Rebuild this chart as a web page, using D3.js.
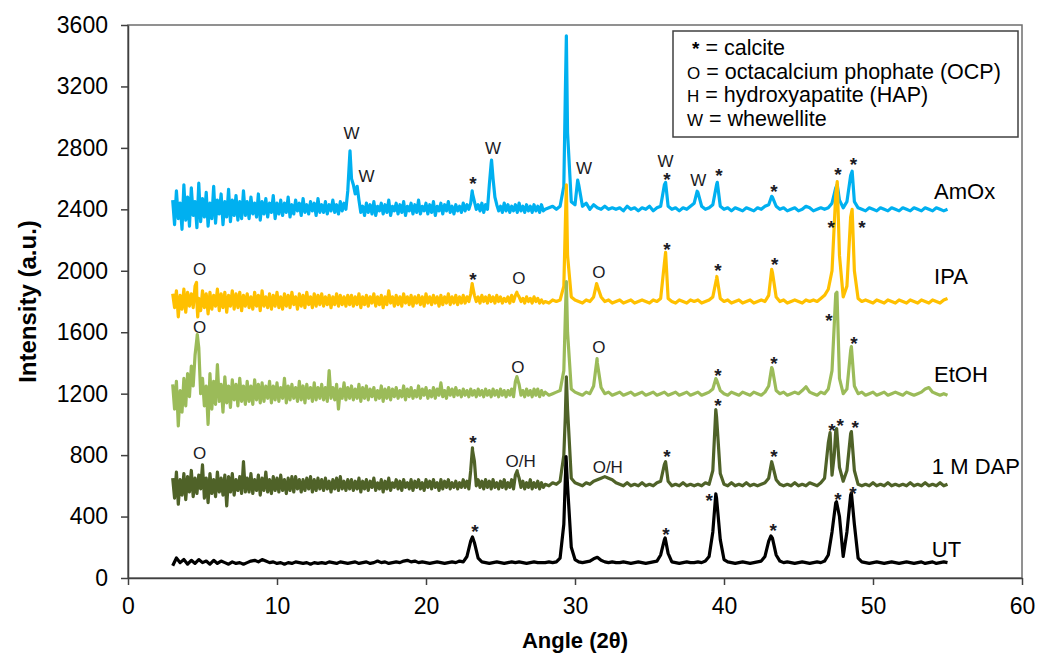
<!DOCTYPE html>
<html>
<head>
<meta charset="utf-8">
<script src="https://cdn.jsdelivr.net/npm/d3@7"></script>
<style>
  body { margin: 0; background: #fff; }
  text { font-family: "Liberation Sans", Arial, sans-serif; }
</style>
</head>
<body>
<script>
// sampling grid of the scans (degrees 2-theta)
const angles = [
  3,3.25,3.5,3.75,4,4.25,4.5,4.75,5,5.25,5.5,5.75,6,6.25,6.5,6.75,7,7.25,7.5,7.75,
  8,8.25,8.5,8.75,9,9.25,9.5,9.75,10,10.25,10.5,10.75,11,11.25,11.5,11.75,12,12.25,12.5,12.75,
  13,13.25,13.5,13.75,14,14.25,14.5,14.75,15,15.25,15.5,15.75,16,16.25,16.5,16.75,17,17.25,17.5,17.75,
  18,18.25,18.5,18.75,19,19.25,19.5,19.75,20,20.25,20.5,20.75,21,21.25,21.5,21.75,22,22.25,22.5,22.75,
  23,23.25,23.5,23.75,24,24.25,24.5,24.75,25,25.25,25.5,25.75,26,26.25,26.5,26.75,27,27.25,27.5,27.75,
  28,28.25,28.5,28.75,29,29.25,29.5,29.75,30,30.25,30.5,30.75,31,31.25,31.5,31.75,32,32.25,32.5,32.75,
  33,33.25,33.5,33.75,34,34.25,34.5,34.75,35,35.25,35.5,35.75,36,36.25,36.5,36.75,37,37.25,37.5,37.75,
  38,38.25,38.5,38.75,39,39.25,39.5,39.75,40,40.25,40.5,40.75,41,41.25,41.5,41.75,42,42.25,42.5,42.75,
  43,43.25,43.5,43.75,44,44.25,44.5,44.75,45,45.25,45.5,45.75,46,46.25,46.5,46.75,47,47.25,47.5,47.75,
  48,48.25,48.5,48.75,49,49.25,49.5,49.75,50,50.25,50.5,50.75,51,51.25,51.5,51.75,52,52.25,52.5,52.75,
  53,53.25,53.5,53.75,54,54.25,54.5,54.75,55
];
// extra in-between readings in the noisy low-angle part
const fineAngles = [
  3.125,3.375,3.625,3.875,4.125,4.375,4.625,4.875,5.125,5.375,5.625,5.875,6.125,6.375,6.625,6.875,7.125,7.375,7.625,7.875,
  8.125,8.375,8.625,8.875,9.125,9.375,9.625,9.875,10.125,10.375,10.625,10.875,11.125,11.375,11.625,11.875,12.125,12.375,12.625,12.875,
  13.125,13.375,13.625,13.875,14.125,14.375,14.625,14.875,15.125,15.375,15.625,15.875,16.125,16.375,16.625,16.875,17.125,17.375,17.625,17.875,
  18.125,18.375,18.625,18.875,19.125,19.375,19.625,19.875,20.125,20.375,20.625,20.875,21.125,21.375,21.625,21.875,22.125,22.375,22.625,22.875,
  23.125,23.375,23.625,23.875,24.125,24.375,24.625,24.875,25.125,25.375,25.625,25.875,26.125,26.375,26.625,26.875,27.125,27.375,27.625,27.875
];

const amoxValues = [
  2460,2520,2440,2560,2480,2540,2450,2570,2470,2510,2440,2550,2460,2500,2450,2530,2460,2490,2450,2520,
  2450,2480,2440,2500,2450,2470,2440,2490,2440,2460,2440,2480,2430,2460,2440,2470,2430,2450,2440,2470,
  2430,2450,2430,2460,2430,2450,2440,2520,2600,2500,2460,2420,2440,2430,2450,2420,2440,2430,2460,2420,
  2440,2430,2450,2420,2440,2430,2460,2420,2440,2430,2450,2420,2440,2430,2450,2420,2430,2420,2440,2430,
  2440,2450,2430,2440,2430,2560,2600,2430,2420,2440,2430,2420,2430,2440,2420,2430,2420,2430,2420,2430,
  2400,2410,2420,2400,2420,2550,2900,2450,2430,2560,2420,2440,2400,2430,2410,2400,2420,2400,2410,2400,
  2410,2390,2420,2400,2410,2390,2410,2400,2420,2390,2410,2420,2560,2420,2400,2410,2390,2410,2400,2420,
  2440,2510,2420,2400,2410,2430,2560,2420,2400,2410,2390,2410,2400,2390,2410,2400,2390,2410,2400,2420,
  2430,2480,2420,2400,2410,2390,2400,2410,2390,2400,2420,2410,2390,2400,2410,2400,2410,2440,2540,2460,
  2410,2450,2620,2450,2410,2400,2390,2410,2400,2390,2410,2400,2390,2410,2400,2390,2410,2400,2390,2410,
  2400,2390,2410,2400,2390,2410,2400,2390,2400
];
const amoxFine = [
  2300,2340,2270,2330,2290,2360,2280,2320,2350,2290,2340,2310,2370,2300,2350,2320,2360,2330,2340,2360,
  2340,2370,2350,2330,2370,2350,2380,2340,2370,2360,2380,2350,2370,2390,2360,2380,2370,2390,2360,2380,
  2380,2370,2390,2380,2370,2390,2400,2740,2560,2550,2380,2360,2380,2370,2360,2390,2370,2380,2360,2390,
  2370,2380,2360,2390,2370,2380,2370,2390,2370,2380,2360,2390,2370,2390,2380,2370,2390,2380,2390,2400,
  2500,2400,2390,2380,2400,2700,2480,2390,2380,2390,2380,2390,2380,2390,2380,2390,2380,2390,2380,2390
];
const amoxPeaks = [[14.9,2780],[15.38,2550],[23.1,2520],[24.4,2720],[29.35,3150],[29.42,3530],
  [30.18,2590],[36.08,2575],[38.2,2518],[39.55,2576],[43.2,2485],[47.6,2560],[48.6,2648]];

const ipaValues = [
  1850,1870,1840,1880,1860,1850,1900,1820,1870,1850,1860,1840,1880,1850,1860,1840,1870,1850,1860,1840,
  1850,1830,1860,1840,1870,1830,1850,1840,1860,1830,1850,1840,1860,1830,1850,1840,1860,1830,1850,1840,
  1850,1830,1840,1830,1850,1840,1830,1840,1840,1830,1850,1830,1840,1830,1850,1830,1840,1830,1870,1830,
  1840,1830,1850,1830,1840,1830,1840,1830,1850,1830,1840,1830,1840,1830,1850,1830,1840,1830,1840,1830,
  1850,1840,1830,1840,1830,1840,1830,1840,1830,1820,1830,1840,1840,1830,1820,1830,1820,1830,1820,1810,
  1800,1790,1810,1800,1810,1900,2100,1830,1810,1800,1790,1810,1800,1830,1900,1830,1800,1810,1790,1800,
  1810,1790,1800,1810,1790,1800,1810,1800,1790,1810,1800,1820,2050,1820,1800,1790,1810,1800,1790,1810,
  1800,1810,1790,1800,1810,1830,1950,1820,1800,1810,1790,1800,1810,1790,1800,1810,1790,1800,1810,1800,
  1840,1990,1830,1800,1810,1790,1800,1810,1800,1790,1810,1800,1810,1800,1820,1840,1880,2000,2500,2100,
  1830,1900,2350,2000,1820,1800,1810,1800,1790,1810,1800,1790,1810,1800,1790,1810,1800,1790,1810,1800,
  1790,1810,1800,1790,1810,1800,1790,1810,1820
];
const ipaFine = [
  1760,1700,1750,1730,1770,1760,1790,1740,1760,1720,1750,1770,1740,1760,1730,1770,1750,1760,1740,1770,
  1760,1750,1770,1740,1770,1760,1750,1770,1760,1750,1770,1760,1780,1750,1770,1760,1780,1760,1770,1780,
  1770,1780,1760,1780,1770,1780,1770,1780,1770,1780,1760,1780,1770,1790,1770,1780,1760,1780,1790,1770,
  1780,1770,1790,1780,1770,1790,1780,1770,1790,1780,1790,1770,1780,1790,1780,1790,1780,1790,1790,1800,
  1900,1800,1790,1800,1790,1800,1790,1800,1790,1800,1790,1800,1850,1800,1790,1800,1790,1800,1790,1790
];
const ipaPeaks = [[4.6,1924],[4.68,1700],[23.1,1917],[26.1,1860],[29.35,2300],[29.42,2560],
  [31.45,1917],[36.08,2120],[39.52,1963],[43.2,2009],[47.6,2580],[48.6,2400]];

const etohValues = [
  1260,1280,1220,1300,1330,1380,1450,1500,1300,1250,1330,1280,1390,1260,1310,1250,1290,1260,1300,1250,
  1280,1250,1290,1260,1270,1250,1280,1250,1270,1240,1300,1250,1260,1240,1280,1250,1260,1240,1270,1240,
  1260,1240,1350,1240,1260,1230,1270,1240,1250,1230,1260,1240,1250,1230,1240,1220,1250,1230,1240,1230,
  1240,1220,1250,1230,1240,1220,1250,1230,1240,1220,1240,1230,1270,1220,1240,1230,1240,1220,1230,1220,
  1230,1220,1230,1220,1230,1220,1230,1220,1230,1220,1220,1230,1280,1260,1220,1230,1220,1230,1230,1220,
  1210,1190,1200,1210,1220,1350,1600,1230,1210,1200,1190,1210,1200,1250,1400,1240,1200,1210,1190,1200,
  1210,1190,1200,1210,1190,1200,1210,1190,1200,1210,1190,1200,1210,1190,1200,1210,1190,1200,1210,1190,
  1200,1210,1190,1200,1210,1230,1290,1220,1200,1190,1210,1200,1190,1210,1200,1190,1210,1200,1190,1210,
  1250,1360,1220,1200,1210,1190,1200,1210,1200,1220,1245,1210,1200,1190,1210,1200,1230,1350,1850,1300,
  1200,1230,1480,1250,1200,1210,1190,1200,1210,1190,1200,1210,1190,1200,1210,1200,1190,1210,1200,1190,
  1200,1210,1230,1240,1210,1200,1190,1200,1190
];
const etohFine = [
  1100,990,1080,1120,1180,1250,1560,1200,1120,1000,1100,1130,1150,1080,1140,1110,1160,1120,1150,1130,
  1150,1130,1160,1140,1150,1170,1140,1160,1150,1170,1140,1160,1170,1150,1160,1140,1170,1150,1160,1170,
  1160,1150,1170,1160,1100,1170,1160,1170,1160,1170,1150,1170,1160,1180,1160,1170,1150,1170,1160,1180,
  1170,1180,1160,1180,1170,1180,1170,1190,1170,1180,1170,1190,1180,1170,1190,1180,1190,1180,1190,1180,
  1190,1180,1190,1180,1190,1180,1190,1180,1190,1180,1190,1180,1300,1190,1180,1190,1180,1190,1180,1190
];
const etohPeaks = [[4.65,1585],[26.1,1311],[29.35,1700],[29.42,1930],[31.48,1428],[39.45,1298],
  [43.2,1370],[47.58,1860],[48.55,1507]];

const dapValues = [
  650,690,640,680,660,700,650,670,737,650,680,640,690,650,670,660,680,640,660,757,
  650,680,640,670,650,690,640,660,650,670,640,650,660,660,640,640,650,660,640,650,
  640,650,630,640,650,660,630,640,640,630,650,630,640,630,650,620,640,630,650,620,
  640,630,640,620,640,630,640,620,640,630,640,620,640,630,640,620,630,620,640,630,
  700,760,640,630,640,630,640,620,630,640,620,640,670,650,630,620,640,620,630,620,
  610,600,620,610,630,800,1100,650,620,610,600,620,610,630,640,650,660,650,640,620,
  610,600,620,600,610,600,620,600,610,600,620,630,740,630,600,610,600,620,600,610,
  600,610,600,620,610,700,1050,680,610,600,620,600,610,600,620,600,610,600,610,620,
  650,740,640,610,600,610,600,620,600,610,600,620,610,600,620,650,880,670,960,720,
  630,700,940,700,610,600,610,600,620,600,610,600,620,600,610,600,610,600,620,600,
  610,600,620,600,610,600,620,600,610
];
const dapFine = [
  520,480,540,510,560,530,550,580,520,490,550,530,560,540,470,560,540,570,550,560,
  560,550,570,540,570,560,550,570,560,570,550,570,560,580,560,570,580,560,570,580,
  570,580,560,580,570,580,570,580,570,580,560,580,570,590,570,580,560,580,570,590,
  580,570,590,580,570,590,580,570,590,580,590,570,580,590,580,590,580,590,590,580,
  830,600,590,580,590,580,590,580,590,580,590,580,690,590,580,590,580,590,580,590
];
const dapPeaks = [[23.12,848],[26.12,698],[29.35,1050],[29.42,1310],[36.08,757],[39.45,1096],
  [43.2,757],[47.12,946],[47.4,800],[47.56,972],[48.55,953]];

const utValues = [
  80,130,100,120,90,115,95,120,100,110,90,115,95,110,100,90,105,95,100,90,
  100,110,115,105,120,110,100,105,95,100,90,100,95,105,100,95,100,90,100,95,
  100,95,105,100,95,105,100,95,100,105,95,100,105,95,100,110,100,105,95,100,
  105,100,110,115,105,110,100,105,100,95,100,105,100,95,100,105,100,110,105,140,
  240,230,130,105,100,95,100,105,100,95,100,105,100,105,100,95,100,105,100,100,
  100,105,100,105,130,350,600,200,120,105,100,105,110,125,135,115,105,100,105,100,
  100,105,100,95,100,105,100,95,100,105,110,150,250,160,105,100,95,100,105,100,
  100,105,100,110,140,300,520,250,120,105,100,95,100,105,100,95,100,105,110,140,
  240,260,150,110,100,105,100,95,100,105,100,95,100,105,100,110,150,300,490,400,
  140,300,540,350,130,105,100,95,100,105,100,95,100,105,100,95,100,105,100,95,
  100,105,95,100,105,95,100,105,100
];
const utFine = [];
const utPeaks = [[23.12,267],[29.4,790],[36.05,261],[39.45,548],[43.15,274],[47.55,496],[48.55,554]];

const seriesNames = ["AmOx", "IPA", "EtOH", "1 M DAP", "UT"];
const seriesColors = ["#00B0F0", "#FFC000", "#9BBB59", "#4F6228", "#000000"];
// where each series name sits (angle, intensity)
const nameAngles = [54.1, 54.1, 54.1, 53.95, 53.95];
const nameValues = [2465, 1911, 1278, 678, 137];

// phase markers: [angle, intensity, mark]
const amoxMarks = [[15.0,2895,"W"],[16.0,2618,"W"],[23.15,2590,"*"],[24.5,2800,"W"],[30.6,2668,"W"],
  [36.07,2716,"W"],[36.17,2618,"*"],[38.28,2589,"W"],[39.66,2644,"*"],[43.36,2540,"*"],[47.65,2648,"*"],[48.69,2713,"*"]];
const ipaMarks = [[4.8,2009,"O"],[23.15,1966,"*"],[26.24,1950,"O"],[31.6,1989,"O"],[36.17,2159,"*"],
  [39.6,2022,"*"],[43.4,2061,"*"],[47.2,2302,"*"],[49.26,2302,"*"]];
const etohMarks = [[4.8,1637,"O"],[26.17,1376,"O"],[31.6,1507,"O"],[39.6,1343,"*"],[43.36,1422,"*"],
  [47.05,1696,"*"],[48.72,1552,"*"]];
const dapMarks = [[4.8,812,"O"],[23.15,907,"*"],[26.35,763,"O/H"],[32.2,724,"O/H"],[36.17,815,"*"],
  [39.6,1148,"*"],[43.36,815,"*"],[47.25,985,"*"],[47.8,1017,"*"],[48.8,1004,"*"]];
const utMarks = [[23.29,326,"*"],[36.1,307,"*"],[39.0,528,"*"],[43.3,333,"*"],[47.65,535,"*"],[48.66,574,"*"]];

const xTicks = [0, 10, 20, 30, 40, 50, 60];
const yTicks = [0, 400, 800, 1200, 1600, 2000, 2400, 2800, 3200, 3600];
const legendLines = [["*", "= calcite"], ["O", "= octacalcium phophate (OCP)"], ["H", "= hydroxyapatite (HAP)"], ["W", "= whewellite"]];

const seriesValues = [amoxValues, ipaValues, etohValues, dapValues, utValues];
const seriesFine = [amoxFine, ipaFine, etohFine, dapFine, utFine];
const seriesPeaks = [amoxPeaks, ipaPeaks, etohPeaks, dapPeaks, utPeaks];
const seriesMarks = [amoxMarks, ipaMarks, etohMarks, dapMarks, utMarks];

// ---- layout
const W = 1042, H = 662;
const plot = { left: 128, right: 1022, top: 25, bottom: 578 };

const svg = d3.select("body").append("svg")
  .attr("width", W).attr("height", H);

const x = d3.scaleLinear().domain([0, 60]).range([plot.left, plot.right]);
const y = d3.scaleLinear().domain([0, 3600]).range([plot.bottom, plot.top]);

// plot frame
svg.append("rect")
  .attr("x", plot.left).attr("y", plot.top)
  .attr("width", plot.right - plot.left).attr("height", plot.bottom - plot.top)
  .attr("fill", "none").attr("stroke", "#6e6e6e").attr("stroke-width", 1.5);

// scans, drawn from the top one down so the lower ones sit in front
const line = d3.line().x(d => x(d[0])).y(d => y(d[1]));
seriesNames.forEach((name, i) => {
  const pts = angles.map((a, j) => [a, seriesValues[i][j]])
    .concat(seriesFine[i].map((v, j) => [fineAngles[j], v]))
    .concat(seriesPeaks[i])
    .sort((p, q) => p[0] - q[0]);
  svg.append("path")
    .datum(pts)
    .attr("fill", "none")
    .attr("stroke", seriesColors[i])
    .attr("stroke-width", 3.2)
    .attr("stroke-linejoin", "round")
    .attr("d", line);
});

// axes
const yAxis = svg.append("g")
  .attr("transform", `translate(${plot.left},0)`)
  .call(d3.axisLeft(y).tickValues(yTicks).tickFormat(d3.format("d"))
    .tickSize(7).tickPadding(13).tickSizeOuter(0));
const xAxis = svg.append("g")
  .attr("transform", `translate(0,${plot.bottom})`)
  .call(d3.axisBottom(x).tickValues(xTicks).tickSize(7).tickPadding(13).tickSizeOuter(0));
[xAxis, yAxis].forEach(g => {
  g.select(".domain").attr("stroke", "#404040").attr("stroke-width", 1.5);
  g.selectAll(".tick line").attr("stroke", "#404040").attr("stroke-width", 1.5);
  g.selectAll(".tick text").attr("font-size", 23).attr("fill", "#000")
    .style("font-family", "'Liberation Sans', Arial, sans-serif");
});

// axis titles
svg.append("text")
  .attr("x", (plot.left + plot.right) / 2).attr("y", 648)
  .attr("text-anchor", "middle")
  .attr("font-size", 22).attr("font-weight", "bold")
  .text("Angle (2θ)");
svg.append("text")
  .attr("transform", `translate(36,${(plot.top + plot.bottom) / 2}) rotate(-90)`)
  .attr("text-anchor", "middle")
  .attr("font-size", 24).attr("font-weight", "bold")
  .text("Intensity (a.u.)");

// peak markers
seriesMarks.forEach(marks => {
  marks.forEach(m => {
    const isStar = m[2] === "*";
    svg.append("text")
      .attr("x", x(m[0]))
      .attr("y", y(m[1]) + (isStar ? 10 : 6))
      .attr("text-anchor", "middle")
      .attr("font-size", isStar ? 19 : 17)
      .attr("font-weight", isStar ? "bold" : "normal")
      .attr("fill", "#1b1b24")
      .text(m[2]);
  });
});

// series names
seriesNames.forEach((name, i) => {
  svg.append("text")
    .attr("x", x(nameAngles[i])).attr("y", y(nameValues[i]))
    .attr("font-size", 22).attr("fill", "#000")
    .text(name);
});

// legend
const legend = svg.append("g").attr("transform", "translate(673,31)");
legend.append("rect")
  .attr("width", 345).attr("height", 106)
  .attr("fill", "#fff").attr("stroke", "#404040").attr("stroke-width", 1.5);
legendLines.forEach((l, i) => {
  const t = legend.append("text")
    .attr("x", 14).attr("y", 24 + i * 23.6)
    .attr("font-size", 21.5).attr("fill", "#000");
  t.append("tspan").attr("font-size", l[0] === "*" ? 19 : 17)
    .attr("dx", l[0] === "*" ? 5 : 0)
    .attr("font-weight", l[0] === "*" ? "bold" : "normal").text(l[0]);
  t.append("tspan").attr("dx", 6).text(l[1]);
});
</script>
</body>
</html>
